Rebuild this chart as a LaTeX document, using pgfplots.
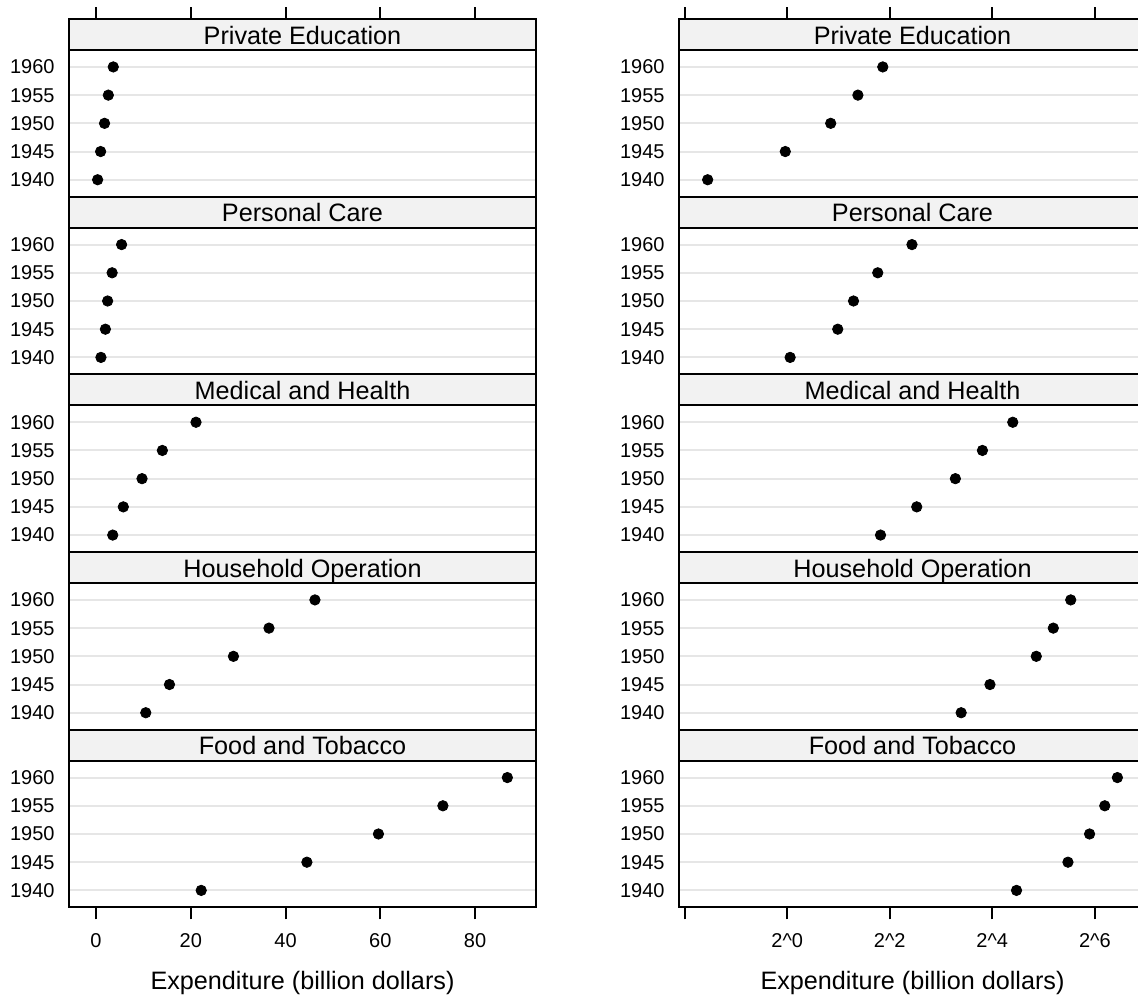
\documentclass[border=0pt]{standalone}
\usepackage{pgfplots}
\usepackage{pgfplotstable}
\pgfplotsset{compat=1.18}
\usepackage{fontspec}
\setmainfont{Liberation Sans}
\definecolor{stripgray}{RGB}{242,242,242}
\definecolor{gridgray}{RGB}{230,230,230}
\newcommand\tickfont{\fontsize{10}{12}\selectfont}
\newcommand\bigfont{\fontsize{12.6}{15}\selectfont}

\pgfplotstableread{
y food house medical personal private
1 22.2 10.5 3.53 1.04 0.341
2 44.5 15.5 5.76 1.98 0.974
3 59.6 29.0 9.71 2.45 1.80
4 73.2 36.5 14.0 3.40 2.60
5 86.8 46.2 21.1 5.40 3.64
}\expdata

\pgfplotsset{
  paneldata/.style={scale only axis, width=233.5pt, height=73.33pt, anchor=north west,
    ymin=0.4, ymax=5.6, ytick={1,2,3,4,5}, yticklabels={1940,1945,1950,1955,1960},
    ymajorgrids, major grid style={draw=gridgray, line width=1pt},
    axis line style={line width=1pt},
    y tick style={draw=none}, xtick=\empty,
    tick align=outside, major tick length=6pt,
    x tick style={line width=1pt, black},
    tick label style={font=\tickfont},
    yticklabel style={inner sep=1pt},
    xticklabel style={yshift=-3.6pt},
    xlabel style={font=\bigfont, at={(axis description cs:0.5,0)}, anchor=base, yshift=-41.3pt},
    clip=false},
  panelstrip/.style={scale only axis, width=233.5pt, height=15.5pt, anchor=south west,
    ymin=0, ymax=1, ytick=\empty, xtick=\empty,
    axis background/.style={fill=stripgray},
    axis line style={line width=1pt},
    tick align=outside, major tick length=6pt,
    x tick style={line width=1pt, black},
    xticklabel style={inner sep=0pt, yshift=-20pt}, clip=false},
  dot/.style={only marks, mark=*, mark size=2.6pt, black},
}

\newcommand\panel[6]{%
  \begin{axis}[paneldata, at={(#1,#2)}, #4]
    \addplot[dot] table[x=#6, y=y] {\expdata};
  \end{axis}
  \begin{axis}[panelstrip, at={(#1,#2)}, #5]
    \node[anchor=base, font=\bigfont, inner sep=0pt] at ([yshift=2.9pt]rel axis cs:0.5,0) {#3};
  \end{axis}}

\begin{document}
\begin{tikzpicture}
\useasboundingbox (0,0) rectangle (569pt,-498pt);
% left column
\panel{34.5pt}{-25pt}{Private Education}{xmin=-5.7, xmax=92.85}{xmin=-5.7, xmax=92.85, xtick={0,20,40,60,80}, xtick pos=right, xticklabels={{},{},{},{},{}}}{private}
\panel{34.5pt}{-113.83pt}{Personal Care}{xmin=-5.7, xmax=92.85}{xmin=-5.7, xmax=92.85}{personal}
\panel{34.5pt}{-202.66pt}{Medical and Health}{xmin=-5.7, xmax=92.85}{xmin=-5.7, xmax=92.85}{medical}
\panel{34.5pt}{-291.49pt}{Household Operation}{xmin=-5.7, xmax=92.85}{xmin=-5.7, xmax=92.85}{house}
\panel{34.5pt}{-380.32pt}{Food and Tobacco}{xmin=-5.7, xmax=92.85, xtick={0,20,40,60,80}, xtick pos=left, xticklabels={0,20,40,60,80}, xlabel={Expenditure (billion dollars)}}{xmin=-5.7, xmax=92.85}{food}
% right column
\panel{339.5pt}{-25pt}{Private Education}{xmode=log, log basis x=2, xmin=0.2315, xmax=127.82}{xmode=log, log basis x=2, xmin=0.2315, xmax=127.82, xtick={0.25,1,4,16,64}, xtick pos=right, xticklabels={{},{},{},{},{}}}{private}
\panel{339.5pt}{-113.83pt}{Personal Care}{xmode=log, log basis x=2, xmin=0.2315, xmax=127.82}{xmode=log, log basis x=2, xmin=0.2315, xmax=127.82}{personal}
\panel{339.5pt}{-202.66pt}{Medical and Health}{xmode=log, log basis x=2, xmin=0.2315, xmax=127.82}{xmode=log, log basis x=2, xmin=0.2315, xmax=127.82}{medical}
\panel{339.5pt}{-291.49pt}{Household Operation}{xmode=log, log basis x=2, xmin=0.2315, xmax=127.82}{xmode=log, log basis x=2, xmin=0.2315, xmax=127.82}{house}
\panel{339.5pt}{-380.32pt}{Food and Tobacco}{xmode=log, log basis x=2, xmin=0.2315, xmax=127.82, xtick={0.25,1,4,16,64}, xtick pos=left, xticklabels={{},{2\textasciicircum{}0},{2\textasciicircum{}2},{2\textasciicircum{}4},{2\textasciicircum{}6}}, xlabel={Expenditure (billion dollars)}}{xmode=log, log basis x=2, xmin=0.2315, xmax=127.82}{food}
\end{tikzpicture}
\end{document}
